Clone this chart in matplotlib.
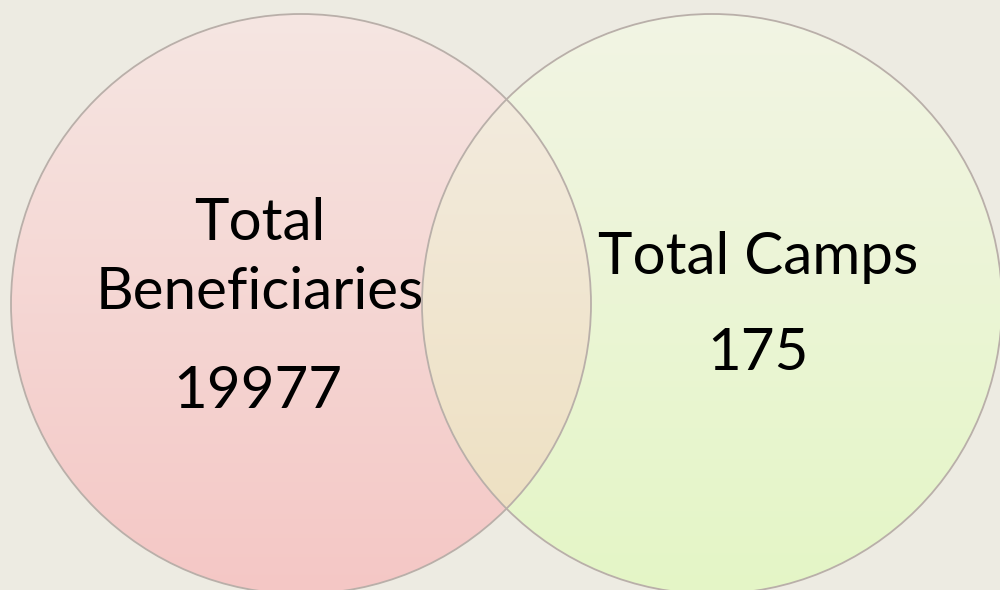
import numpy as np
import matplotlib.pyplot as plt
from matplotlib.patches import Circle

# Venn content
labels = [["Total", "Beneficiaries"], ["Total Camps"]]
values = [19977, 175]

# colours (top, bottom) of each circle's vertical gradient
left_top, left_bottom = np.array([246, 230, 226]), np.array([244, 199, 197])
right_top, right_bottom = np.array([242, 244, 228]), np.array([228, 246, 198])
bg = np.array([237, 235, 226])

W, H = 1000, 590
r = 290
lc = (301, 304)
rc = (712, 304)

fig = plt.figure(figsize=(10, 5.9), dpi=100)
ax = fig.add_axes([0, 0, 1, 1])
ax.set_xlim(0, W)
ax.set_ylim(H, 0)
ax.axis("off")

yy, xx = np.mgrid[0:H, 0:W] + 0.5
t = np.clip((yy - (lc[1] - r)) / (2 * r), 0, 1)[..., None]
left_col = left_top + (left_bottom - left_top) * t
right_col = right_top + (right_bottom - right_top) * t
in_l = ((xx - lc[0]) ** 2 + (yy - lc[1]) ** 2) <= r ** 2
in_r = ((xx - rc[0]) ** 2 + (yy - rc[1]) ** 2) <= r ** 2

img = np.broadcast_to(bg, (H, W, 3)).astype(float).copy()
img[in_l] = left_col[in_l]
img[in_r] = right_col[in_r]
both = in_l & in_r
overlap = (left_col + right_col) / 2 + np.array([1, 0, -8]) * t
img[both] = overlap[both]
ax.imshow(img.astype(np.uint8), extent=(0, W, H, 0), interpolation="bilinear")

for c in (lc, rc):
    ax.add_patch(Circle(c, r, fill=False, edgecolor="#b9afa9", lw=1.3))

font = "Lato"
fs = 42
ax.text(260, 240, labels[0][0], ha="center", va="baseline", fontsize=fs, family=font)
ax.text(260, 309, labels[0][1], ha="center", va="baseline", fontsize=fs, family=font)
ax.text(258, 408, str(values[0]), ha="center", va="baseline", fontsize=fs, family=font)
ax.text(758, 274, labels[1][0], ha="center", va="baseline", fontsize=fs, family=font)
ax.text(758, 370, str(values[1]), ha="center", va="baseline", fontsize=fs, family=font)

fig.savefig("out.png", dpi=100)
